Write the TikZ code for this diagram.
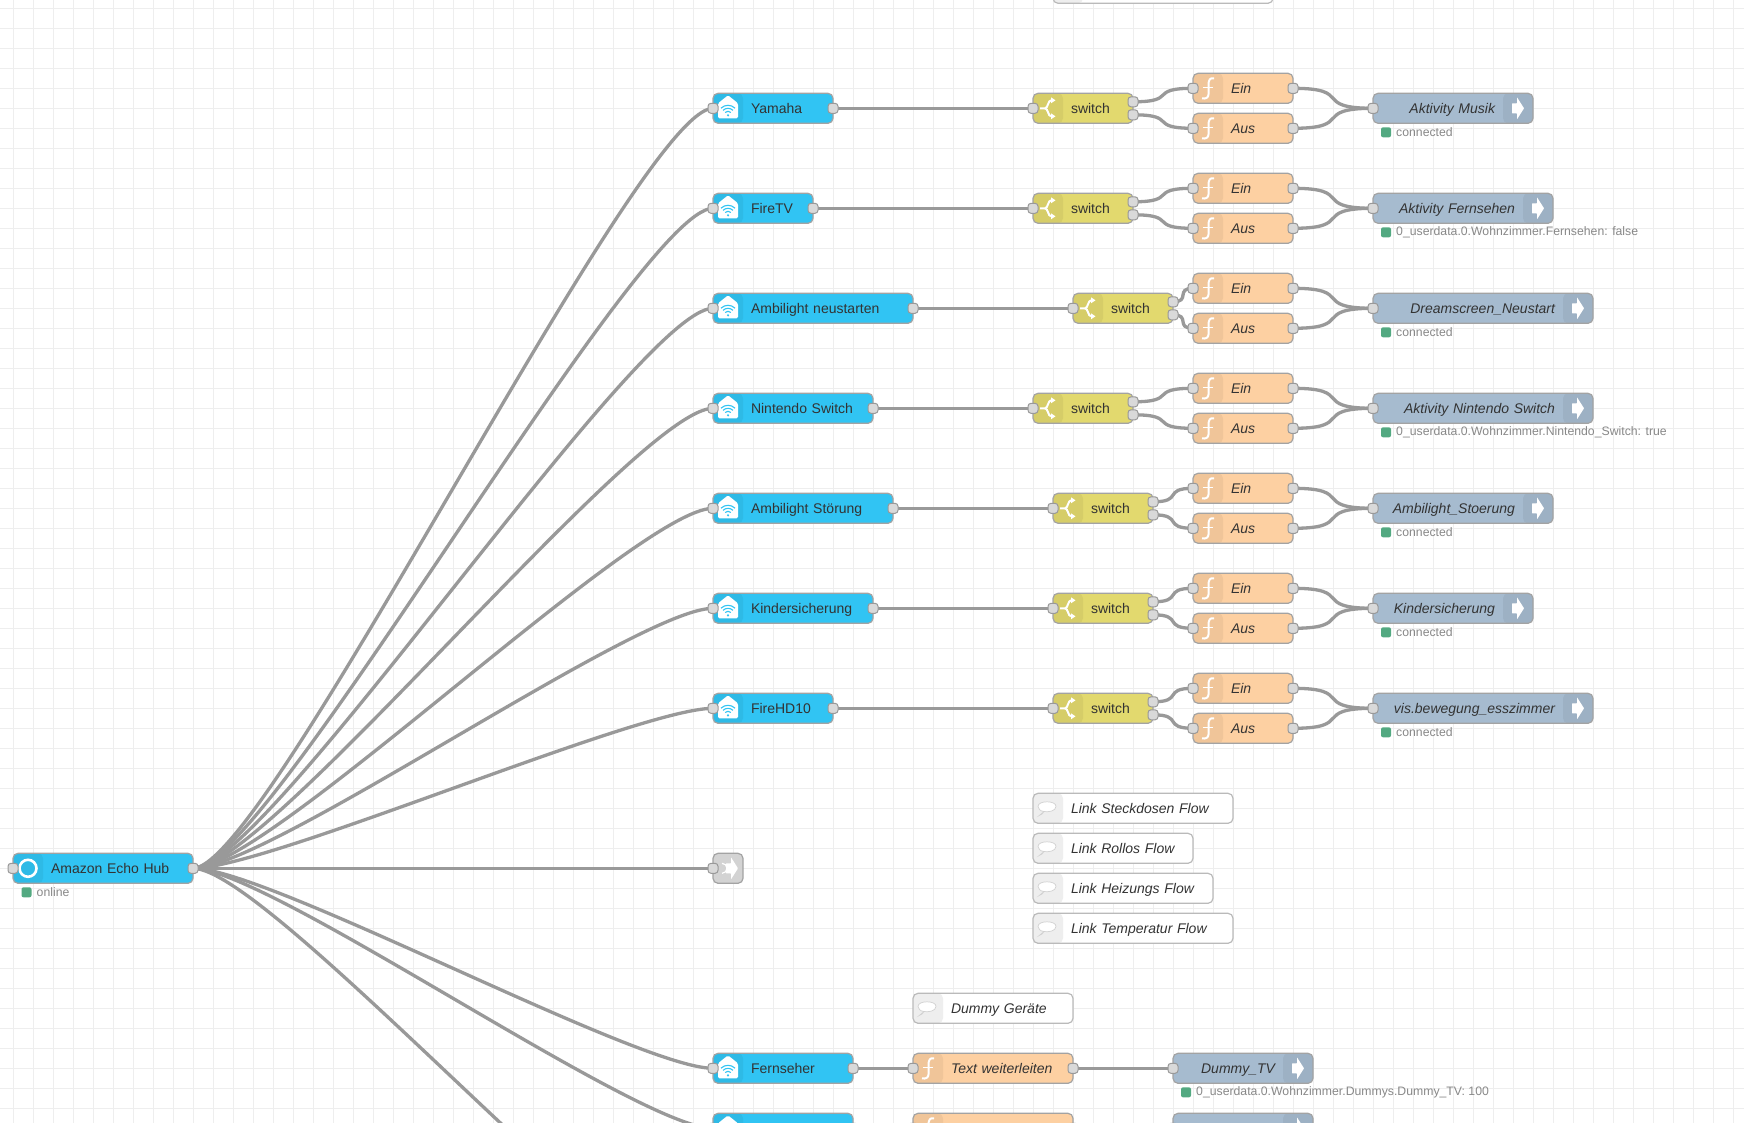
\documentclass[tikz,border=0pt]{standalone}
\usepackage{fontspec}
\setmainfont{Liberation Sans}
\usepackage{xcolor}
\usetikzlibrary{positioning}
\usetikzlibrary{backgrounds}

\definecolor{gridgray}{HTML}{EEEEEE}
\definecolor{edgegray}{HTML}{A3A3A3}
\definecolor{wiregray}{HTML}{999999}
\definecolor{portgray}{HTML}{D9D9D9}
\definecolor{labelgray}{HTML}{333333}
\definecolor{statusgray}{HTML}{888888}
\definecolor{dotgreen}{HTML}{53A981}
\definecolor{alexablue}{HTML}{31C4F3}
\definecolor{funcorange}{HTML}{FDD0A2}
\definecolor{switchyellow}{HTML}{E2D96E}
\definecolor{linkblue}{HTML}{A6BBCF}
\definecolor{linkgray}{HTML}{D3D3D3}

\tikzset{
	flownode/.style={draw=edgegray, line width=1.2pt, rounded corners=5pt, anchor=west, minimum height=30pt,
		inner xsep=0pt, inner ysep=0pt, outer sep=0pt, text width=#1, text height=12pt, text depth=1.4pt,
		text=labelgray, font=\fontsize{14}{16}\selectfont},
	leftstrip/.style={path picture={\fill[#1] (path picture bounding box.north west) rectangle ++(30pt,-30pt);},
		execute at begin node={\rule{38pt}{0pt}}},
	devnode/.style={flownode=#1, fill=alexablue, leftstrip={black, opacity=0.05}},
	funcnode/.style={flownode=#1, fill=funcorange, leftstrip={black, opacity=0.05}, font=\fontsize{14}{16}\selectfont\itshape},
	switchnode/.style={flownode=#1, fill=switchyellow, leftstrip={black, opacity=0.05}},
	linknode/.style={flownode=#1, fill=linkblue, font=\fontsize{14}{16}\selectfont\itshape, align=right,
		path picture={\fill[black, opacity=0.05] (path picture bounding box.north east) rectangle ++(-30pt,-30pt);},
		execute at end node={\rule{38pt}{0pt}}},
	commentnode/.style={flownode=#1, fill=white, draw=edgegray!75, leftstrip={gridgray}, font=\fontsize{14}{16}\selectfont\itshape},
	port/.style={draw=wiregray, line width=1pt, fill=portgray, rounded corners=3pt, minimum size=10pt, inner sep=0pt, outer sep=0pt},
	statusdot/.style={fill=dotgreen, rounded corners=2pt, minimum size=10pt, inner sep=0pt, outer sep=0pt},
	statustext/.style={inner sep=0pt, text=statusgray, font=\fontsize{12.25}{14}\selectfont},
	wire/.style={draw=wiregray, line width=3.3pt},
	houseicon/.pic={
		\fill[white, rounded corners=1.5pt] (-10,-5)--(0,-13)--(10,-5)--(10,10)--(-10,10)--cycle;
		\fill[alexablue] (0,7) circle (1.2);
		\foreach \r in {4,7,10}{
			\draw[alexablue, line width=1.1pt] (0,7)+(-135:\r) arc[start angle=-135, end angle=-45, radius=\r];
		}
	},
	funcicon/.pic={
		\draw[white, line width=2pt] (6,-10) .. controls (2,-11) and (0.5,-8) .. (0.5,-4) -- (0.5,6) .. controls (0.5,9) and (-2,11) .. (-6,10);
		\draw[white, line width=1.6pt] (-5,-1)--(5,-1);
	},
	forkicon/.pic={
		\draw[white, line width=2pt] (-8,0)--(-3,0) .. controls (0,0) and (0,-8) .. (3,-8);
		\draw[white, line width=2pt] (-3,0) .. controls (0,0) and (0,8) .. (3,8);
		\fill[white] (3,-11)--(7.5,-8)--(3,-5)--cycle;
		\fill[white] (3,11)--(7.5,8)--(3,5)--cycle;
	},
	exiticon/.pic={
		\fill[white, rounded corners=0.5pt] (-6,-5)--(-1,-5)--(-1,-11)--(6,0)--(-1,11)--(-1,5)--(-6,5)--cycle;
	},
	bubbleicon/.pic={
		\draw[gridgray!88!black, fill=white, line width=0.7pt] (-4,3.2) .. controls (-8,3) and (-10,0) .. (-10,-2) .. controls (-10,-8) and (8,-8) .. (8,-2) .. controls (8,3) and (0,4) .. (-4,3.2) .. controls (-5,5) and (-6.5,6.5) .. (-8.5,7) .. controls (-7,5.5) and (-6.5,4.5) .. cycle;
	}
}

\begin{document}
\begin{tikzpicture}[x=1pt, y=-1pt]
	\path[use as bounding box, clip] (0,-0.3) rectangle (1744,1121.7);
	\begin{scope}[on background layer]
		\fill[white] (-1,-1) rectangle (1745,1123);
		\foreach \x in {13,33,...,1733}{
			\draw[gridgray, line width=1pt] (\x,-1)--(\x,1123);
		}
		\foreach \y in {8,28,...,1108}{
			\draw[gridgray, line width=1pt] (-1,\y)--(1745,\y);
		}
	\end{scope}

	% hub and its status
	\node[devnode=180pt] (hub) at (13,868) {Amazon Echo Hub};
	\draw[white, line width=2.6pt] (28,868) circle (8.5);
	\node[port] (hub-l) at (hub.west) {};
	\node[port] (hub-r) at (hub.east) {};
	\node[statusdot] (hub-dot) at (26.5,892) {};
	\node[statustext, right=5pt of hub-dot] (hub-stat) {online};

	% the seven rows
	\foreach \row/\y/\devname/\devw/\swx/\outname/\outw/\stat in {
		1/108/Yamaha/120/1033/Aktivity Musik/160/connected,
		2/208/FireTV/100/1033/Aktivity Fernsehen/180/0\_userdata.0.Wohnzimmer.Fernsehen: false,
		3/308/Ambilight neustarten/200/1073/Dreamscreen\_Neustart/220/connected,
		4/408/Nintendo Switch/160/1033/Aktivity Nintendo Switch/220/0\_userdata.0.Wohnzimmer.Nintendo\_Switch: true,
		5/508/Ambilight Störung/180/1053/Ambilight\_Stoerung/180/connected,
		6/608/Kindersicherung/160/1053/Kindersicherung/160/connected,
		7/708/FireHD10/120/1053/vis.bewegung\_esszimmer/220/connected}{
		\node[devnode=\devw pt] (in\row) at (713,\y) {\devname};
		\pic at (728,\y) {houseicon};
		\node[port] (in\row-l) at (in\row.west) {};
		\node[port] (in\row-r) at (in\row.east) {};
		\node[switchnode=100pt] (sw\row) at (\swx,\y) {switch};
		\pic at ([xshift=15pt]sw\row.west) {forkicon};
		\node[port] (sw\row-l) at (sw\row.west) {};
		\node[port] (sw\row-a) at ([yshift=6.5pt]sw\row.east) {};
		\node[port] (sw\row-b) at ([yshift=-6.5pt]sw\row.east) {};
		\node[funcnode=100pt] (ein\row) at (1193,\y-20) {Ein};
		\node[funcnode=100pt] (aus\row) at (1193,\y+20) {Aus};
		\pic at ([xshift=15pt]ein\row.west) {funcicon};
		\pic at ([xshift=15pt]aus\row.west) {funcicon};
		\node[port] (ein\row-l) at (ein\row.west) {};
		\node[port] (ein\row-r) at (ein\row.east) {};
		\node[port] (aus\row-l) at (aus\row.west) {};
		\node[port] (aus\row-r) at (aus\row.east) {};
		\node[linknode=\outw pt] (out\row) at (1373,\y) {\outname};
		\pic at ([xshift=-15pt]out\row.east) {exiticon};
		\node[port] (out\row-l) at (out\row.west) {};
		\node[statusdot] (out\row-dot) at (1386,\y+24) {};
		\node[statustext, right=5pt of out\row-dot] (out\row-stat) {\stat};
	}

	% link node beside the hub
	\node[flownode=30pt, fill=linkgray] (linkin) at (713,868) {};
	\draw[white, line width=1.2pt] (722,863) arc[start angle=-90, end angle=90, radius=5];
	\pic at (732,868) {exiticon};
	\node[port] (linkin-l) at (linkin.west) {};

	% comments
	\foreach \cname/\cx/\cy/\cw/\ctext in {
		top/1053/-12/220/,
		steck/1033/808/200/Link Steckdosen Flow,
		rollo/1033/848/160/Link Rollos Flow,
		heiz/1033/888/180/Link Heizungs Flow,
		temp/1033/928/200/Link Temperatur Flow,
		dummy/913/1008/160/Dummy Geräte}{
		\node[commentnode=\cw pt] (\cname) at (\cx,\cy) {\ctext};
		\pic at ([xshift=15pt]\cname.west) {bubbleicon};
	}

	% dummy rows
	\foreach \row/\y/\devname/\fname/\outname in {
		8/1068/Fernseher/Text weiterleiten/Dummy\_TV,
		9/1128//{}/{}}{
		\node[devnode=140pt] (in\row) at (713,\y) {\devname};
		\pic at (728,\y) {houseicon};
		\node[port] (in\row-l) at (in\row.west) {};
		\node[port] (in\row-r) at (in\row.east) {};
		\node[funcnode=160pt] (fn\row) at (913,\y) {\fname};
		\pic at ([xshift=15pt]fn\row.west) {funcicon};
		\node[port] (fn\row-l) at (fn\row.west) {};
		\node[port] (fn\row-r) at (fn\row.east) {};
		\node[linknode=140pt] (out\row) at (1173,\y) {\outname};
		\pic at ([xshift=-15pt]out\row.east) {exiticon};
		\node[port] (out\row-l) at (out\row.west) {};
	}
	\node[statusdot] (out8-dot) at (1186,1092) {};
	\node[statustext, right=5pt of out8-dot] (out8-stat) {0\_userdata.0.Wohnzimmer.Dummys.Dummy\_TV: 100};
	\coordinate (offpage) at (713,1288);

	\begin{scope}[on background layer]
		\foreach \target in {in1-l,in2-l,in3-l,in4-l,in5-l,in6-l,in7-l,linkin-l,in8-l,in9-l,offpage}{
			\draw[wire] (hub-r.center) .. controls +(75,0) and +(-75,0) .. (\target.center);
		}
		\foreach \row/\swo in {1/46,2/46,3/18,4/46,5/31,6/31,7/31}{
			\draw[wire] (in\row-r.center)--(sw\row-l.center);
			\draw[wire] (sw\row-a.center) .. controls +(\swo,0) and +(-\swo,0) .. (ein\row-l.center);
			\draw[wire] (sw\row-b.center) .. controls +(\swo,0) and +(-\swo,0) .. (aus\row-l.center);
			\draw[wire] (ein\row-r.center) .. controls +(62,0) and +(-62,0) .. (out\row-l.center);
			\draw[wire] (aus\row-r.center) .. controls +(62,0) and +(-62,0) .. (out\row-l.center);
		}
		\foreach \row in {8,9}{
			\draw[wire] (in\row-r.center)--(fn\row-l.center);
			\draw[wire] (fn\row-r.center)--(out\row-l.center);
		}
	\end{scope}
\end{tikzpicture}
\end{document}
